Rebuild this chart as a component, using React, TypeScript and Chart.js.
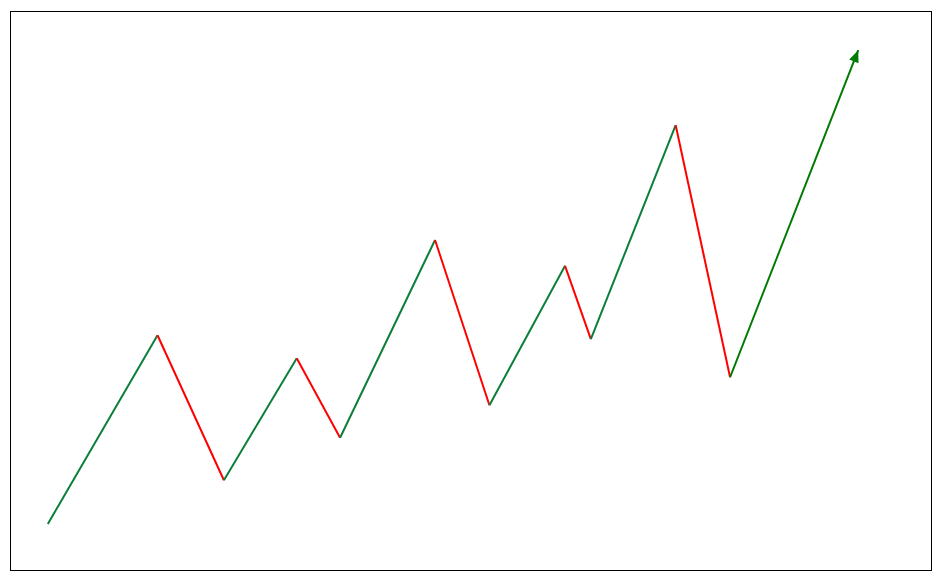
import React, { useEffect, useRef } from "react";
import { Chart, registerables } from "chart.js";

Chart.register(...registerables);

const xValues = [4.1, 16.0, 23.2, 31.1, 35.8, 46.1, 52.0, 60.2, 63.0, 72.2, 78.1, 92.0];
const yValues = [8.4, 42.1, 16.2, 38.0, 23.8, 59.1, 29.6, 54.5, 41.4, 79.6, 34.6, 93.0];
const UP = "#0b7f3a";
const DOWN = "#ff0000";
const ARROW = "#007a00";

const frame = {
  id: "frame",
  afterDatasetsDraw(chart: any) {
    const { ctx, chartArea } = chart;
    const xs = chart.scales.x;
    const ys = chart.scales.y;
    const n = xValues.length;
    const x1 = xs.getPixelForValue(xValues[n - 2]);
    const y1 = ys.getPixelForValue(yValues[n - 2]);
    const x2 = xs.getPixelForValue(xValues[n - 1]);
    const y2 = ys.getPixelForValue(yValues[n - 1]);
    const ang = Math.atan2(y2 - y1, x2 - x1);
    const len = 12;
    const half = 5;
    const bx = x2 - len * Math.cos(ang);
    const by = y2 - len * Math.sin(ang);
    ctx.save();
    ctx.fillStyle = ARROW;
    ctx.beginPath();
    ctx.moveTo(x2, y2);
    ctx.lineTo(bx + half * Math.sin(ang), by - half * Math.cos(ang));
    ctx.lineTo(bx - half * Math.sin(ang), by + half * Math.cos(ang));
    ctx.closePath();
    ctx.fill();
    ctx.strokeStyle = "#000";
    ctx.lineWidth = 1;
    ctx.strokeRect(
      Math.round(chartArea.left) + 0.5,
      Math.round(chartArea.top) + 0.5,
      Math.round(chartArea.right - chartArea.left) - 1,
      Math.round(chartArea.bottom - chartArea.top) - 1
    );
    ctx.restore();
  },
};

export default function App() {
  const ref = useRef<HTMLCanvasElement>(null);
  useEffect(() => {
    if (!ref.current) return;
    const n = xValues.length;
    const chart = new Chart(ref.current, {
      type: "line",
      data: {
        datasets: [
          {
            data: xValues.map((x, i) => ({ x, y: yValues[i] })),
            borderWidth: 2,
            pointRadius: 0,
            tension: 0,
            fill: false,
            borderColor: UP,
            segment: {
              borderColor: (c: any) =>
                c.p1DataIndex === n - 1 ? ARROW : c.p1.parsed.y > c.p0.parsed.y ? UP : DOWN,
            },
          },
        ],
      },
      options: {
        animation: false,
        responsive: false,
        events: [],
        layout: { padding: { left: 10, right: 8, top: 11, bottom: 9 } },
        plugins: { legend: { display: false }, tooltip: { enabled: false } },
        scales: {
          x: { type: "linear", min: 0, max: 100, display: false },
          y: { type: "linear", min: 0, max: 100, display: false },
        },
      },
      plugins: [frame],
    });
    return () => chart.destroy();
  }, []);
  return (
    <div style={{ position: "absolute", left: 0, top: 0, width: 940, height: 580, background: "#fff" }}>
      <canvas ref={ref} width={940} height={580} style={{ display: "block" }} />
    </div>
  );
}
